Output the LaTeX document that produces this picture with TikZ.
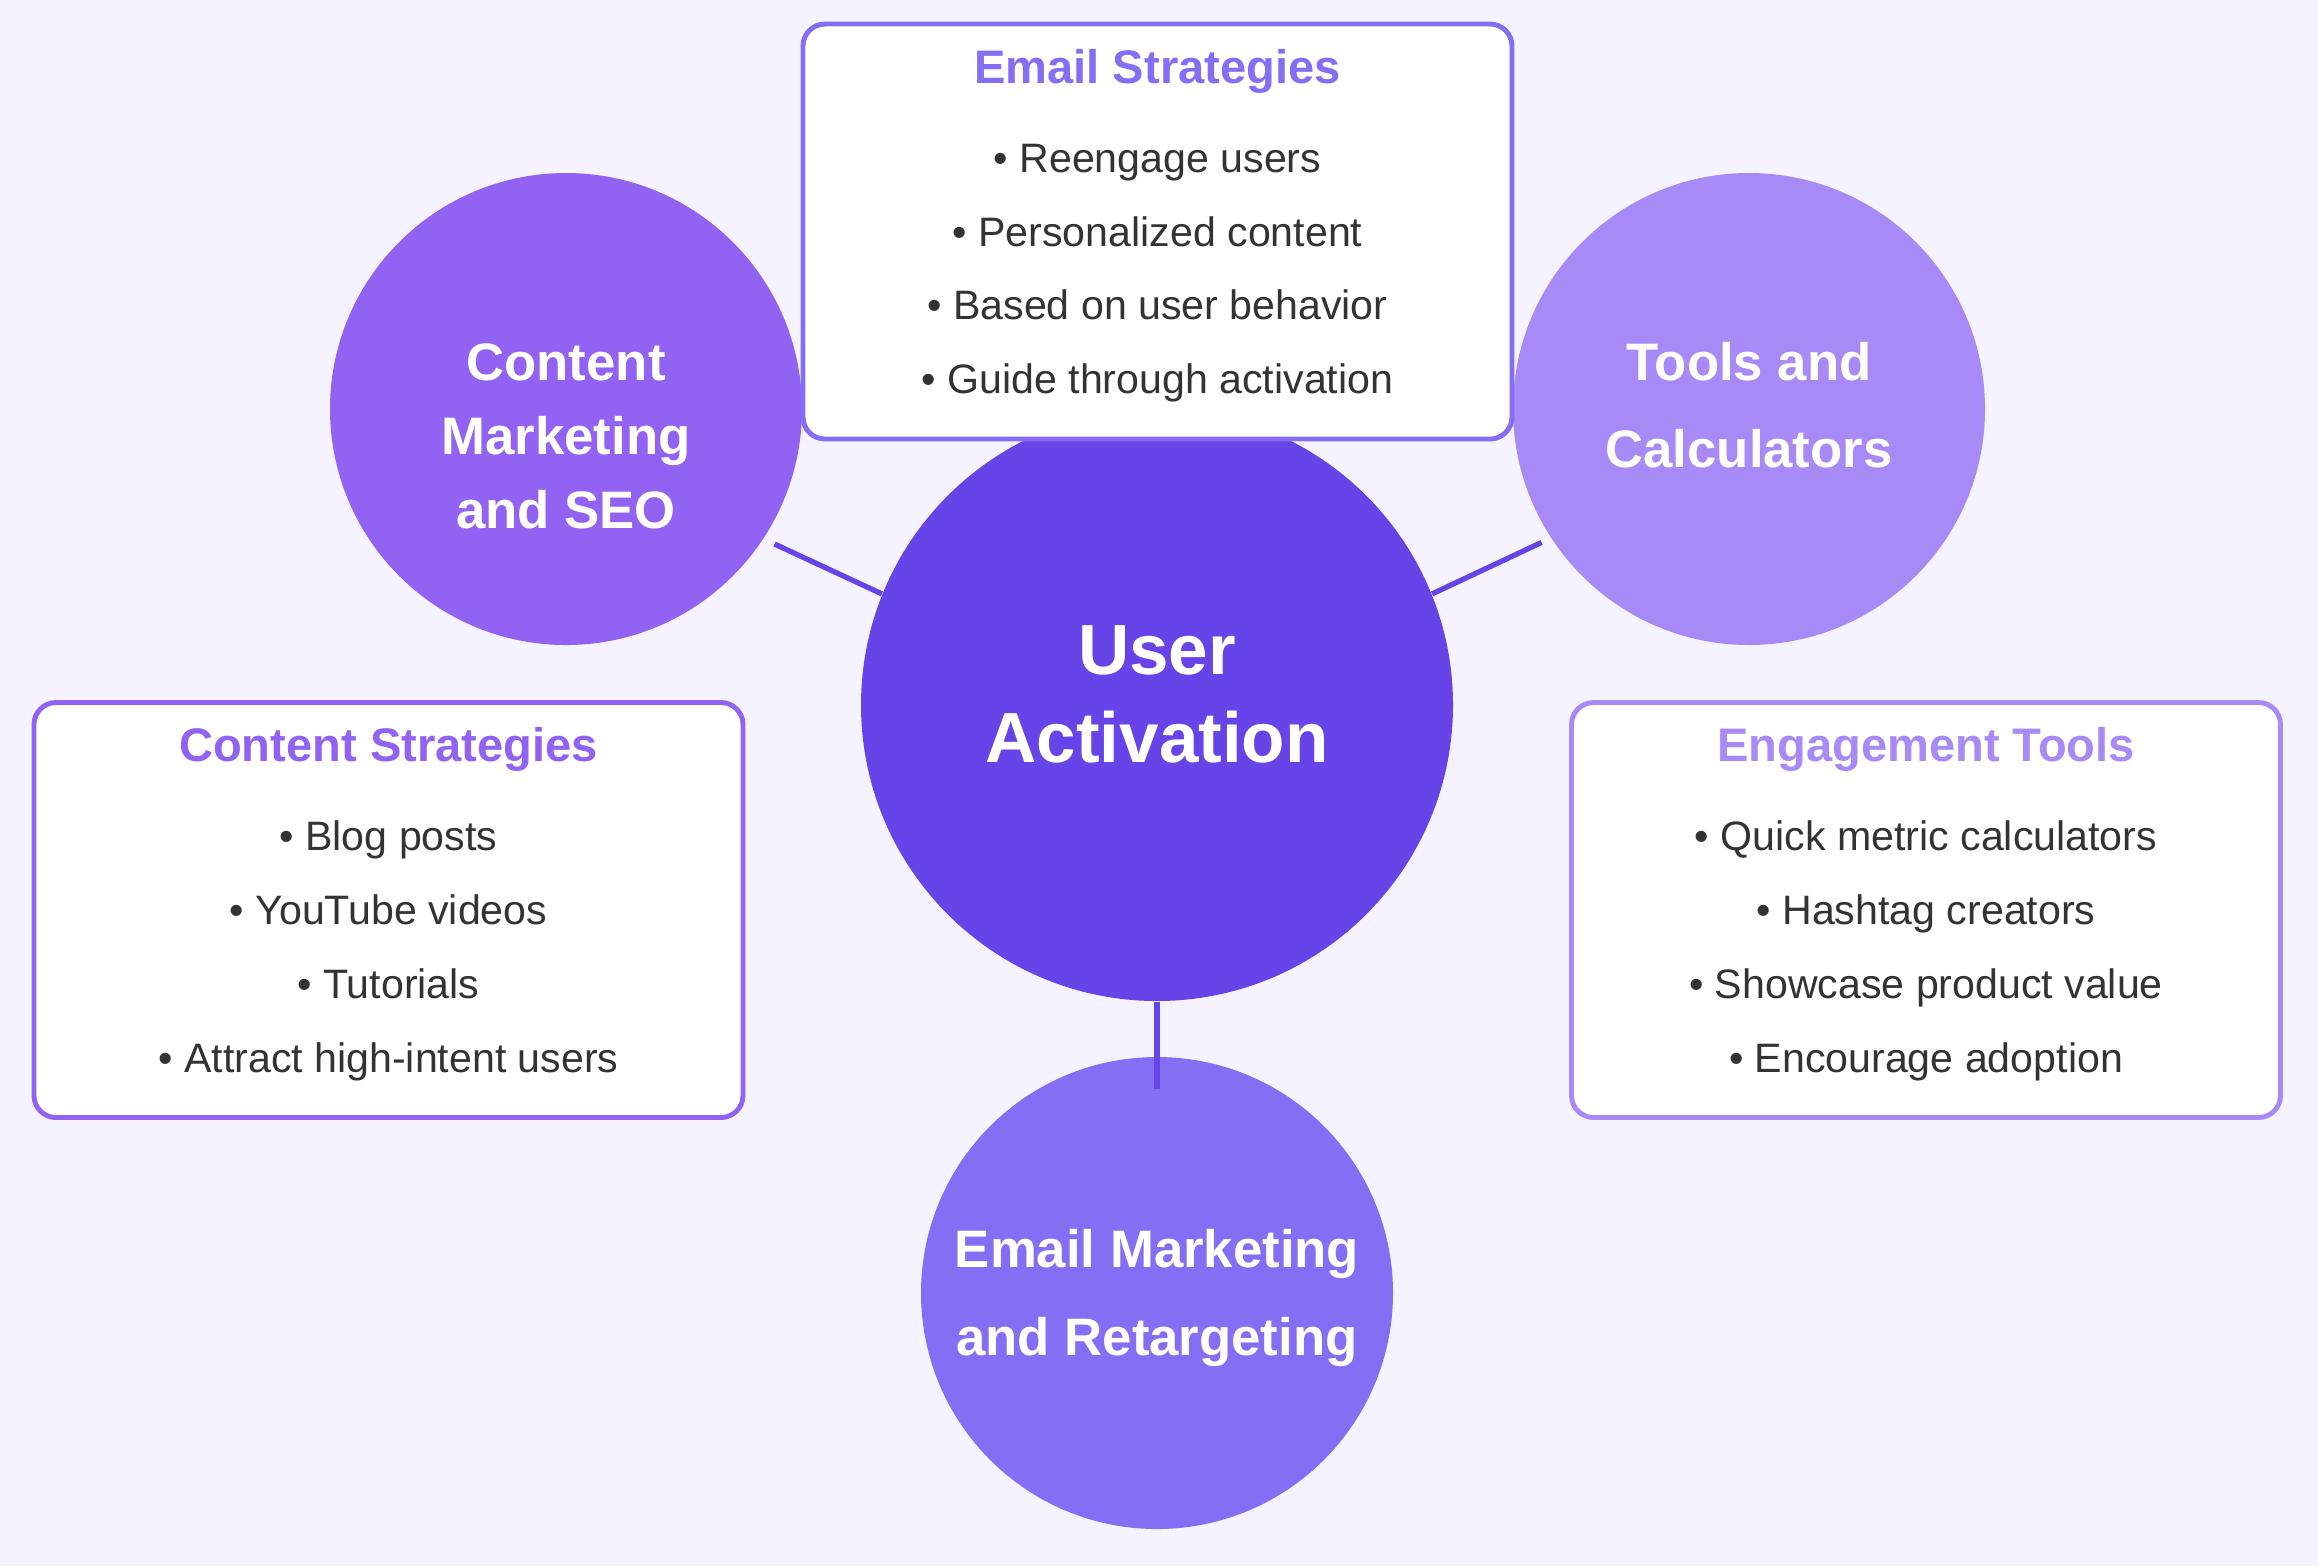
\documentclass[tikz,border=0pt]{standalone}
\usepackage{fontspec}
\setmainfont{Liberation Sans}
\definecolor{bgcol}{HTML}{F5F3FF}
\definecolor{corecol}{HTML}{6744E8}
\definecolor{seocol}{HTML}{9262F2}
\definecolor{toolcol}{HTML}{A88AF7}
\definecolor{mailcol}{HTML}{846EF4}
\definecolor{txtcol}{HTML}{333333}
\newcommand{\cardtitlefont}{\bfseries\fontsize{13.4}{16}\selectfont}
\begin{document}
\begin{tikzpicture}[x=1cm, y=-1cm,
    bubble/.style={circle, fill=#1, minimum size=4.72cm, inner sep=0pt, text=white, align=center,
      font=\bfseries\fontsize{15}{24.8}\selectfont},
    card/.style={draw=#1, line width=1.4pt, fill=white, rounded corners=0.22cm, minimum width=7.09cm,
      minimum height=4.15cm, align=center, text=txtcol, font=\fontsize{11.7}{21}\selectfont,
      execute at end node={\rule[-0.2cm]{0pt}{0.2cm}}},
    link/.style={corecol, line width=1.5pt}]
    \fill[bgcol] (0,0) rectangle (23.18,15.66);
    \useasboundingbox (0,0) rectangle (23.18,15.66);
    \node[circle, fill=corecol, minimum size=5.92cm, inner sep=0pt, text=white, align=center,
      font=\bfseries\fontsize{20.2}{25}\selectfont] (core) at (11.57,7.05)
      {User\\Activation\rule[-0.22cm]{0pt}{0.22cm}};
    \node[bubble=seocol] (seo) at (5.66,4.09) {\rule{0pt}{0.92cm}Content\\[-0.13cm]Marketing\\[-0.13cm]and SEO};
    \node[bubble=toolcol] (tools) at (17.49,4.09) {Tools and\\Calculators\rule[-0.08cm]{0pt}{0.08cm}};
    \node[bubble=mailcol] (mail) at (11.57,12.93) {\rule{0pt}{0.48cm}Email Marketing\\and Retargeting};
    \coordinate (seoend) at (7.745,5.44);
    \coordinate (toolsend) at (15.416,5.424);
    \coordinate (mailend) at (11.57,10.89);
    \draw[link] (core.158) -- (seoend);
    \draw[link] (core.22) -- (toolsend);
    \draw[link] (core) -- (mailend);
    \node[card=mailcol] (emailbox) at (11.575,2.315)
      {\textcolor{mailcol}{\cardtitlefont Email Strategies}\\[0.15cm]
       • Reengage users\\• Personalized content\\• Based on user behavior\\• Guide through activation};
    \node[card=seocol] (contentbox) at (3.885,9.10)
      {\textcolor{seocol}{\cardtitlefont Content Strategies}\\[0.15cm]
       • Blog posts\\• YouTube videos\\• Tutorials\\• Attract high-intent users};
    \node[card=toolcol] (engagebox) at (19.26,9.10)
      {\textcolor{toolcol}{\cardtitlefont Engagement Tools}\\[0.15cm]
       • Quick metric calculators\\• Hashtag creators\\• Showcase product value\\• Encourage adoption};
\end{tikzpicture}
\end{document}
